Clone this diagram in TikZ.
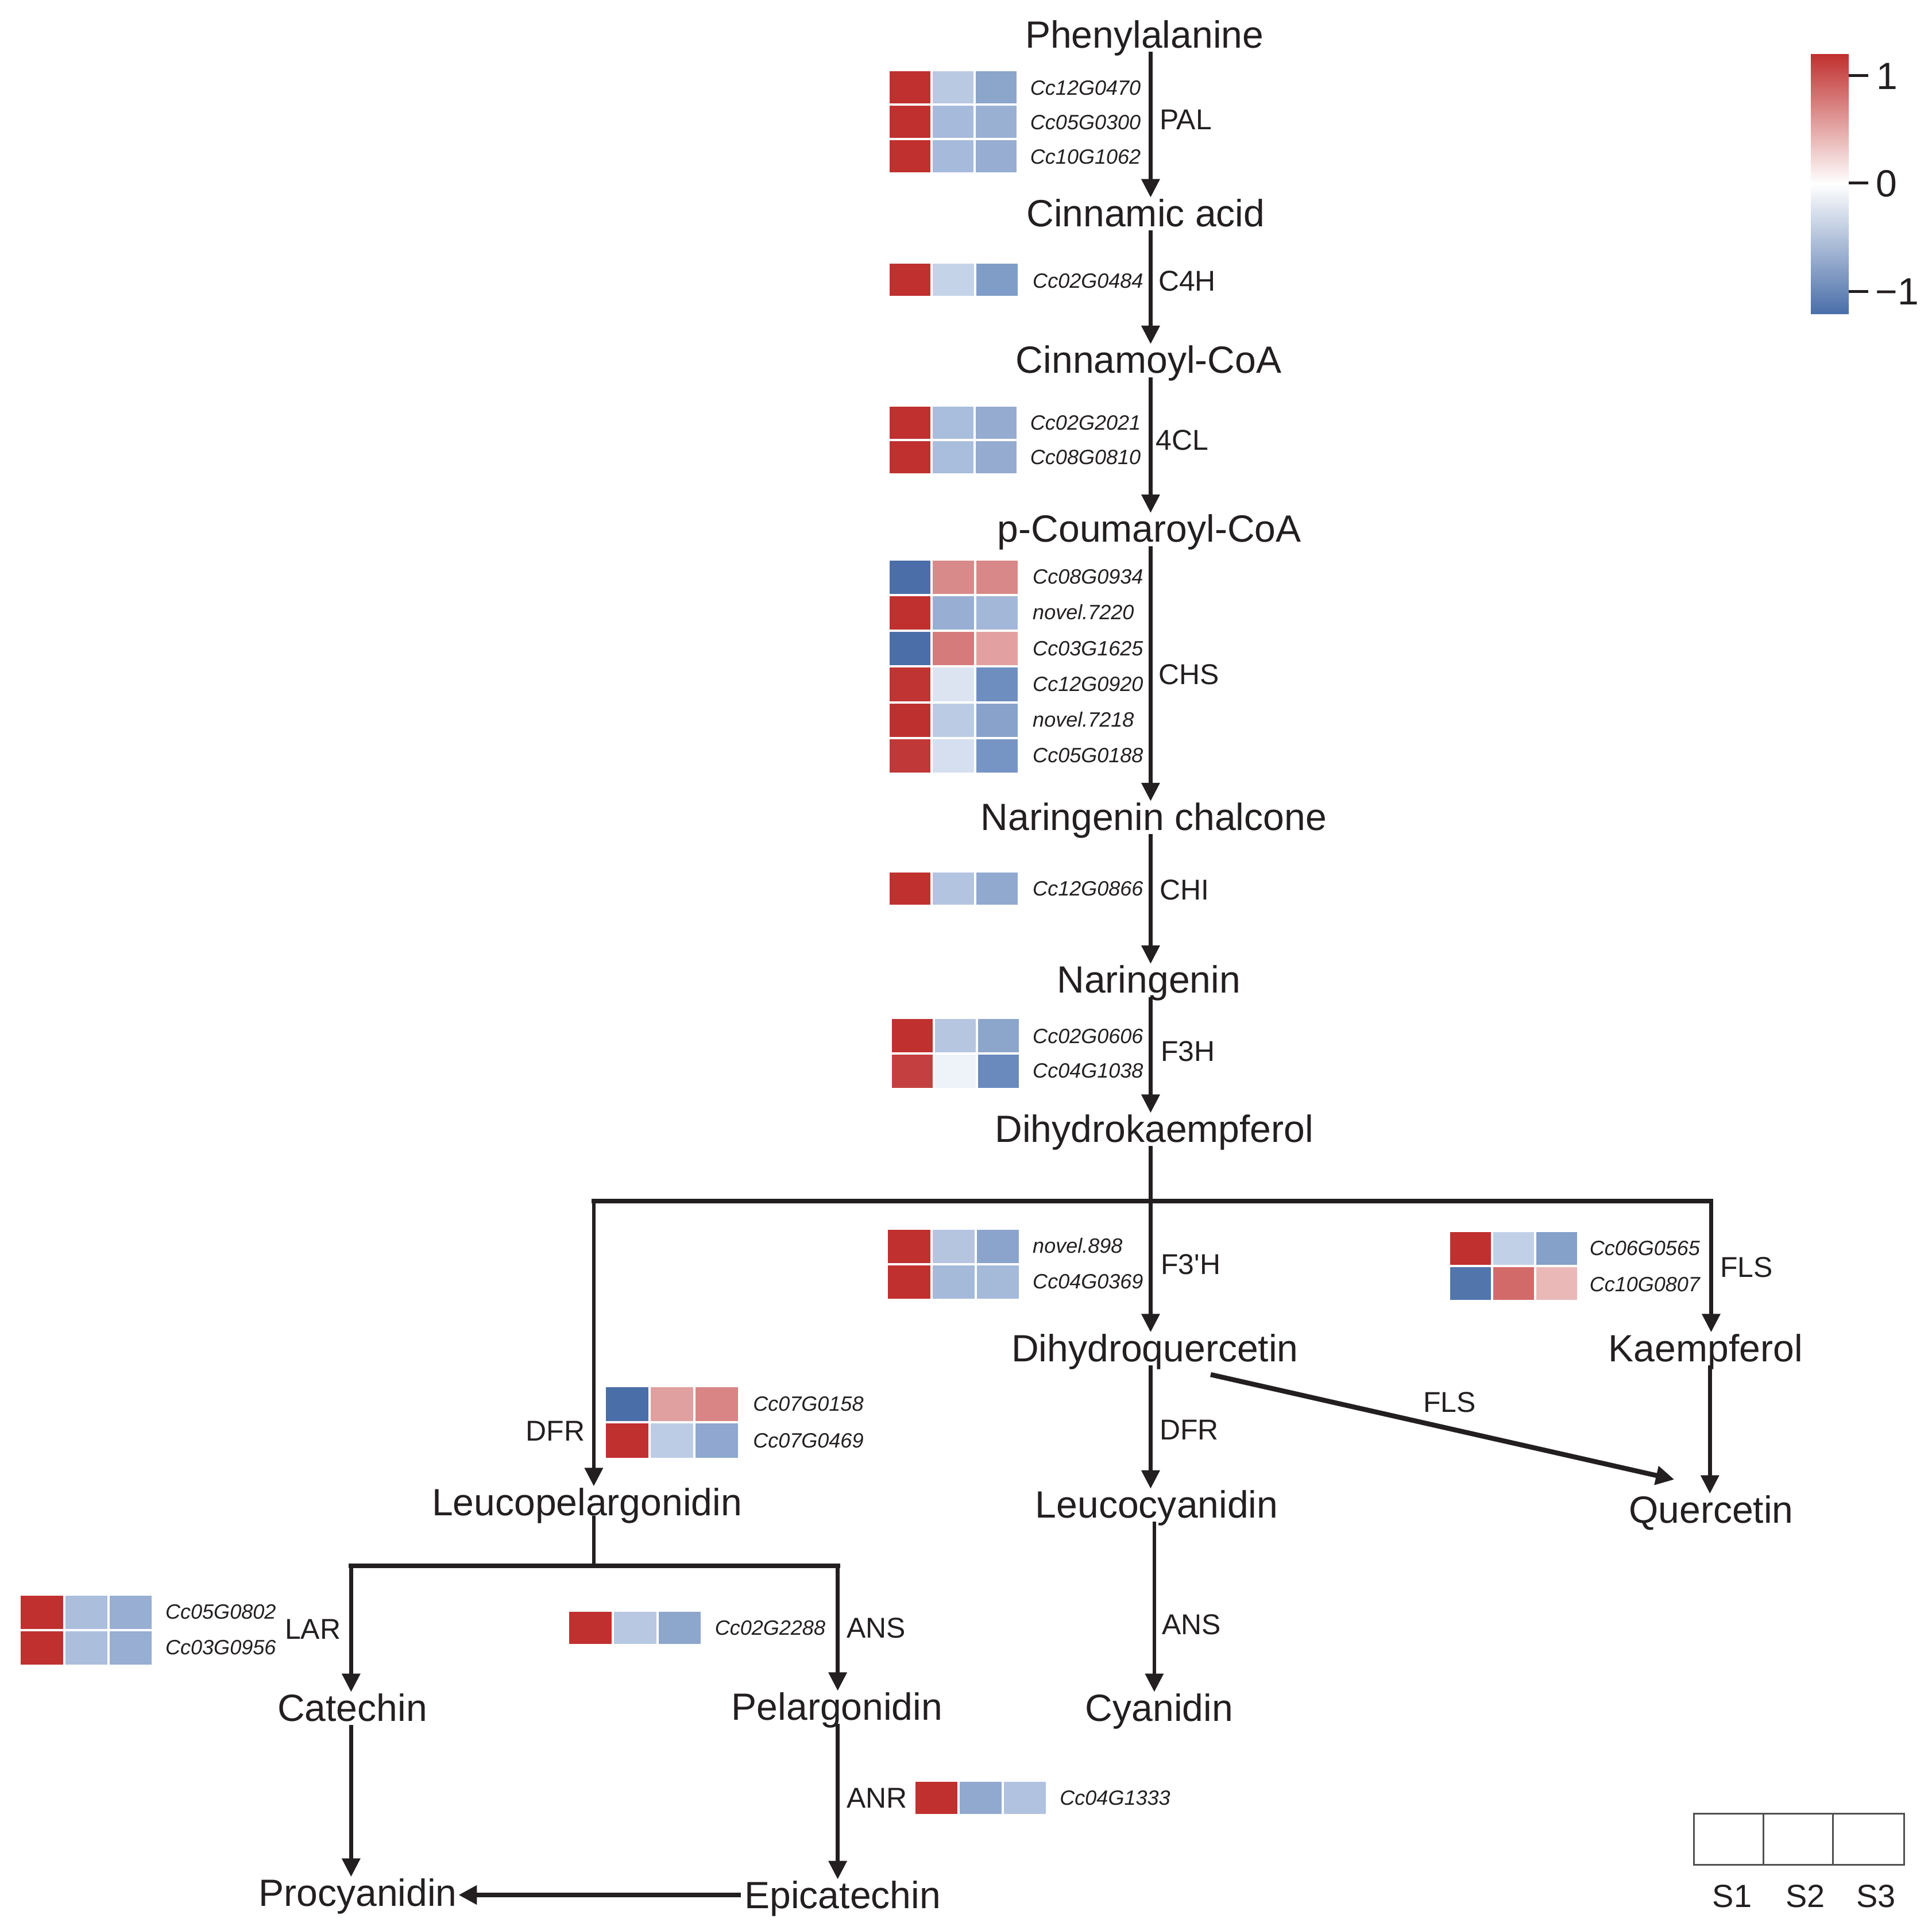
\documentclass[tikz,border=0pt]{standalone}
\usepackage{fontspec}
\setmainfont{Liberation Sans}
\usetikzlibrary{arrows.meta,calc}
\definecolor{ink}{HTML}{231F20}
\definecolor{hred}{HTML}{C0302F}
\definecolor{hblue}{HTML}{4A6EA9}
\definecolor{legline}{HTML}{505050}
\newcommand{\metfont}{\fontsize{18.8pt}{22pt}\selectfont}
\newcommand{\genefont}{\fontsize{10.25pt}{12pt}\selectfont\itshape}
\newcommand{\enzfont}{\fontsize{14.2pt}{16pt}\selectfont}
\newcommand{\legfont}{\fontsize{15.9pt}{18pt}\selectfont}
\newcommand{\hcdef}[1]{\definecolor{hcol}{HTML}{#1}}
\newcommand{\hcell}[5]{\expandafter\hcdef\expandafter{#5}%
  \fill[hcol] (#1,#2) rectangle ++(#3,#4);
  \draw[white,line width=0.4mm] (#1,#2) rectangle ++(#3,#4);}
\newcommand{\hmap}[5]{\foreach \hrow [count=\hr from 0] in {#5}{%
  \foreach \hc [count=\hi from 0] in \hrow {\hcell{#1+#3*\hi}{#2+#4*\hr}{#3}{#4}{\hc}}}}
\begin{document}
\begin{tikzpicture}[x=0.2145mm,y=-0.2145mm,
  met/.style={font=\metfont,text=ink,inner sep=0pt,text height=4.73mm,text depth=0pt,anchor=base},
  gene/.style={font=\genefont,text=ink,inner sep=0pt,text height=2.58mm,text depth=0pt,anchor=west},
  enz/.style={font=\enzfont,text=ink,inner sep=0pt,text height=3.58mm,text depth=0pt,anchor=west},
  tick/.style={font=\metfont,text=ink,inner sep=0pt,text height=4.73mm,text depth=0pt,anchor=west},
  leg/.style={font=\legfont,text=ink,inner sep=0pt,text height=4.0mm,text depth=0pt},
  arr/.style={draw=ink,line width=0.67mm,shorten <=0.6mm,shorten >=0.3mm,-{Triangle[length=3.2mm,width=3.1mm]}},
  arrthick/.style={draw=ink,line width=0.85mm,shorten <=0.6mm,shorten >=0.2mm,-{Triangle[length=3.2mm,width=3.2mm]}},
  ln/.style={draw=ink,line width=0.67mm,shorten <=0.6mm},
  brline/.style={draw=ink,line width=0.8mm,line cap=rect},
  lg/.style={draw=legline,line width=0.28mm}]
\useasboundingbox (0,0) rectangle (1568.3,1566.4);
\fill[white] (0,0) rectangle (1568.3,1566.4);

% ---------- metabolites ----------
\node[met] (phe)   at (929,39)    {Phenylalanine};
\node[met] (cin)   at (930,184)   {Cinnamic acid};
\node[met] (cinco) at (932.5,303) {Cinnamoyl-CoA};
\node[met] (pcou)  at (933,440)   {p-Coumaroyl-CoA};
\node[met] (nchal) at (936.5,674) {Naringenin chalcone};
\node[met] (nar)   at (932.5,806) {Naringenin};
\node[met] (dhk)   at (937,927)   {Dihydrokaempferol};
\node[met] (dhq)   at (937.5,1105){Dihydroquercetin};
\node[met] (kae)   at (1384.5,1105){Kaempferol};
\node[met] (lpel)  at (476.5,1230){Leucopelargonidin};
\node[met] (lcy)   at (939,1232)  {Leucocyanidin};
\node[met] (que)   at (1389,1236) {Quercetin};
\node[met] (cat)   at (286,1397)  {Catechin};
\node[met] (pel)   at (679.5,1396){Pelargonidin};
\node[met] (cya)   at (941,1397)  {Cyanidin};
\node[met] (pro)   at (290.5,1547){Procyanidin};
\node[met] (epi)   at (684,1549)  {Epicatechin};

% ---------- axis coordinates ----------
\coordinate (ax) at (934,0);
\coordinate (b1) at (934,975);
\coordinate (bl) at (482,975);
\coordinate (br) at (1389,975);
\coordinate (kq) at (1388,0);
\coordinate (lc) at (937,0);
\coordinate (c1) at (482,1271);
\coordinate (cl) at (285,1271);
\coordinate (cr) at (680,1271);
\coordinate (d1) at (980,1115);
\coordinate (d2) at (1360,1201);

% ---------- connectors ----------
\draw[arr] (phe.south -| ax) -- (cin.north -| ax);
\draw[arr] (cin.south -| ax) -- (cinco.north -| ax);
\draw[arr] (cinco.south -| ax) -- (pcou.north -| ax);
\draw[arr] (pcou.south -| ax) -- (nchal.north -| ax);
\draw[arr] (nchal.south -| ax) -- (nar.north -| ax);
\draw[arr] (nar.south -| ax) -- (dhk.north -| ax);
\draw[ln] (dhk.south -| ax) -- (b1);
\draw[brline] (bl) -- (br);
\draw[arr,shorten <=0pt] (b1) -- (dhq.north -| ax);
\draw[arr,shorten <=0pt] (br) -- (kae.north -| br);
\draw[arr,shorten <=0pt] (bl) -- (lpel.north -| bl);
\draw[arr] (dhq.south -| ax) -- (lcy.north -| ax);
\draw[arrthick] (d1) -- (d2);
\draw[arr] (kae.south -| kq) -- (que.north -| kq);
\draw[arr] (lcy.south -| lc) -- (cya.north -| lc);
\draw[ln,shorten <=0pt] (lpel.south -| bl) -- (c1);
\draw[brline] (cl) -- (cr);
\draw[arr,shorten <=0pt] (cl) -- (cat.north -| cl);
\draw[arr,shorten <=0pt] (cr) -- (pel.north -| cr);
\draw[arr] (cat.south -| cl) -- (pro.north -| cl);
\draw[arr] (pel.south -| cr) -- (epi.north -| cr);
\draw[arrthick] (epi.west) -- (epi.west -| pro.east);

% ---------- enzyme labels ----------
\node[enz] (pal)  at (941,97)   {PAL};
\node[enz] (c4h)  at (940,228)  {C4H};
\node[enz] (fcl)  at (938,357)  {4CL};
\node[enz] (chs)  at (940,547)  {CHS};
\node[enz] (chi)  at (941,722)  {CHI};
\node[enz] (fth)  at (942,853)  {F3H};
\node[enz] (ftph) at (942,1026) {F3\textquotesingle H};
\node[enz] (fls1) at (1396,1028){FLS};
\node[enz] (fls2) at (1155,1138){FLS};
\node[enz,anchor=east] (dfr1) at (475,1161) {DFR};
\node[enz] (dfr2) at (941,1160) {DFR};
\node[enz] (lar)  at (231,1322) {LAR};
\node[enz] (ans1) at (687,1321) {ANS};
\node[enz] (ans2) at (943,1318) {ANS};
\node[enz] (anr)  at (687,1459) {ANR};

% ---------- heatmaps ----------
\hmap{721}{57}{35}{28}{{C0302F,B9C9E2,8CA5CB},{C0302F,A6BADB,9AB0D3},{C0302F,A6BADB,97ADD1}}
\hmap{721}{213}{35.3}{28}{{C0302F,C5D3E8,809DC8}}
\hmap{721}{329}{35}{28}{{C0302F,A9BDDC,95ACD0},{C0302F,A9BDDC,95ACD0}}
\hmap{721}{454}{35.3}{29}{{4B6EA9,D88A8A,D88888},{C0302F,98AFD3,A3B7D9},{4B6EA9,D57B7B,E2A0A0},{C03434,DCE4F1,6F8EC0},{BE3030,BCCBE4,88A2CB},{C03838,D5DFEF,7795C4}}
\hmap{721}{707}{35.3}{28}{{C0302F,B3C4E0,91A9CF}}
\hmap{723}{826}{35}{29}{{C0302F,B6C6E1,8CA5CB},{C44040,EEF2F9,6A8ABE}}
\hmap{720}{997}{36}{29}{{C0302F,B5C5E0,8BA4CB},{C0302F,A5B9D9,A5B9D9}}
\hmap{1176}{999}{35}{28.5}{{C0302F,C2D0E7,85A0C9},{5275AC,D36A6A,EBB8B8}}
\hmap{491}{1125}{36.3}{29.5}{{4A6EA8,E0A0A0,D98585},{C0302F,BDCCE5,90A8CF}}
\hmap{16}{1294}{36}{29}{{C0302F,ABBEDC,98AED2},{C0302F,ABBEDC,98AED2}}
\hmap{461}{1307}{36.3}{28}{{C0302F,B8C8E2,8DA6CC}}
\hmap{742}{1445}{36}{28}{{C0302F,91A9CF,B0C2DF}}

% ---------- gene labels ----------
\node[gene] (g1)  at (836,71)   {Cc12G0470};
\node[gene] (g2)  at (836,99)   {Cc05G0300};
\node[gene] (g3)  at (836,127)  {Cc10G1062};
\node[gene] (g4)  at (838,228)  {Cc02G0484};
\node[gene] (g5)  at (836,343)  {Cc02G2021};
\node[gene] (g6)  at (836,371)  {Cc08G0810};
\node[gene] (g7)  at (838,468)  {Cc08G0934};
\node[gene] (g8)  at (838,497)  {novel.7220};
\node[gene] (g9)  at (838,526)  {Cc03G1625};
\node[gene] (g10) at (838,555)  {Cc12G0920};
\node[gene] (g11) at (838,584)  {novel.7218};
\node[gene] (g12) at (838,613)  {Cc05G0188};
\node[gene] (g13) at (838,721)  {Cc12G0866};
\node[gene] (g14) at (838,841)  {Cc02G0606};
\node[gene] (g15) at (838,869)  {Cc04G1038};
\node[gene] (g16) at (838,1011) {novel.898};
\node[gene] (g17) at (838,1040) {Cc04G0369};
\node[gene] (g18) at (1290,1013){Cc06G0565};
\node[gene] (g19) at (1290,1042){Cc10G0807};
\node[gene] (g20) at (611,1139) {Cc07G0158};
\node[gene] (g21) at (611,1169) {Cc07G0469};
\node[gene] (g22) at (134,1308) {Cc05G0802};
\node[gene] (g23) at (134,1337) {Cc03G0956};
\node[gene] (g24) at (580,1321) {Cc02G2288};
\node[gene] (g25) at (860,1459) {Cc04G1333};

% ---------- colour bar ----------
\shade[top color=hred,bottom color=white] (1470,44) rectangle (1500.7,149);
\shade[top color=white,bottom color=hblue] (1470,149) rectangle (1500.7,255);
\draw[ink,line width=0.5mm] (1500.7,61.5) -- (1516.6,61.5);
\draw[ink,line width=0.5mm] (1500.7,148.5) -- (1516.6,148.5);
\draw[ink,line width=0.5mm] (1500.7,236.5) -- (1516.6,236.5);
\node[tick] (t1) at (1523,61.5)  {1};
\node[tick] (t0) at (1522.5,148.5) {0};
\node[tick] (tm) at (1522,236.5) {−1};

% ---------- legend ----------
\draw[lg] (1375,1472) rectangle (1545.5,1513.5);
\draw[lg] (1431.5,1472) -- (1431.5,1513.5);
\draw[lg] (1488,1472) -- (1488,1513.5);
\node[leg] (s1) at (1406,1538.5)   {S1};
\node[leg] (s2) at (1465.5,1538.5) {S2};
\node[leg] (s3) at (1523,1538.5)   {S3};
\end{tikzpicture}
\end{document}
